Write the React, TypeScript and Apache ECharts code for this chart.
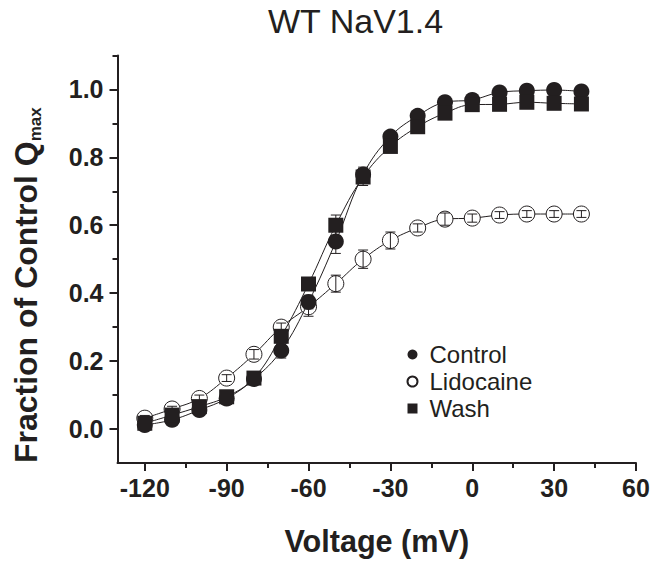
import React, { useEffect, useRef } from 'react';
import * as echarts from 'echarts';

const voltages = [-120, -110, -100, -90, -80, -70, -60, -50, -40, -30, -20, -10, 0, 10, 20, 30, 40];
const controlValues = [0.012, 0.027, 0.056, 0.09, 0.147, 0.231, 0.374, 0.552, 0.749, 0.861, 0.922, 0.962, 0.969, 0.991, 0.996, 0.998, 0.994];
const controlErrors = [0.008, 0.008, 0.01, 0.01, 0.012, 0.022, 0.02, 0.035, 0.022, 0.012, 0.01, 0.01, 0.01, 0.008, 0.008, 0.008, 0.008];
const lidocaineValues = [0.032, 0.059, 0.09, 0.15, 0.22, 0.3, 0.36, 0.428, 0.5, 0.555, 0.592, 0.618, 0.621, 0.63, 0.633, 0.633, 0.633];
const lidocaineErrors = [0.008, 0.008, 0.01, 0.01, 0.014, 0.012, 0.028, 0.025, 0.027, 0.025, 0.012, 0.018, 0.012, 0.01, 0.01, 0.01, 0.01];
const washValues = [0.017, 0.041, 0.066, 0.095, 0.15, 0.273, 0.427, 0.6, 0.742, 0.832, 0.89, 0.93, 0.955, 0.956, 0.962, 0.959, 0.957];
const washErrors = [0.008, 0.008, 0.01, 0.01, 0.012, 0.015, 0.015, 0.03, 0.025, 0.012, 0.01, 0.01, 0.01, 0.008, 0.008, 0.008, 0.008];

const xMajorTicks = [-120, -90, -60, -30, 0, 30, 60];
const xMinorTicks = [-105, -75, -45, -15, 15, 45];
const yMajorTicks = [0, 0.2, 0.4, 0.6, 0.8, 1.0];
const yMinorTicks = [0.1, 0.3, 0.5, 0.7, 0.9, 1.1];

const INK = '#231f20';
const FONT = '"Liberation Sans", Arial, Helvetica, sans-serif';

function errorBars(values: number[], errors: number[], z: number) {
  return {
    type: 'custom',
    silent: true,
    z,
    xAxisIndex: 0,
    yAxisIndex: 0,
    data: voltages.map((v, i) => [v, values[i] - errors[i], values[i] + errors[i]]),
    renderItem: (params: any, api: any) => {
      const x = api.value(0);
      const lo = api.coord([x, api.value(1)]);
      const hi = api.coord([x, api.value(2)]);
      const hw = 5;
      const style = { stroke: INK, lineWidth: 1 };
      return {
        type: 'group',
        children: [
          { type: 'line', shape: { x1: lo[0], y1: lo[1], x2: hi[0], y2: hi[1] }, style },
          { type: 'line', shape: { x1: lo[0] - hw, y1: lo[1], x2: lo[0] + hw, y2: lo[1] }, style },
          { type: 'line', shape: { x1: hi[0] - hw, y1: hi[1], x2: hi[0] + hw, y2: hi[1] }, style },
        ],
      };
    },
  };
}

export default function App() {
  const ref = useRef<HTMLDivElement>(null);
  useEffect(() => {
    if (!ref.current) return;
    const chart = echarts.init(ref.current, null, { renderer: 'svg' });
    const axisLineStyle = { color: INK, width: 2 };
    const option: any = {
      animation: false,
      backgroundColor: '#fff',
      title: {
        text: 'WT NaV1.4',
        left: 268,
        top: 4,
        padding: 0,
        textStyle: { fontSize: 34, fontWeight: 'normal', color: INK, fontFamily: FONT },
      },
      legend: {
        orient: 'vertical',
        left: 406.5,
        top: 341,
        itemWidth: 10,
        itemHeight: 10,
        itemGap: 0,
        padding: 0,
        selectedMode: false,
        textStyle: { fontSize: 24, color: INK, fontFamily: FONT, lineHeight: 27, padding: [0, 0, 0, 7] },
        data: [
          { name: 'Control', icon: 'circle' },
          { name: 'Lidocaine', icon: 'circle' },
          { name: 'Wash', icon: 'rect' },
        ],
      },
      grid: { left: 117.5, right: 26, top: 55.4, bottom: 90.4, containLabel: false },
      xAxis: [
        {
          type: 'value',
          min: -130,
          max: 60,
          position: 'bottom',
          name: 'Voltage (mV)',
          nameLocation: 'middle',
          nameGap: 62,
          nameTextStyle: { fontSize: 30.6, fontWeight: 'bold', color: INK, fontFamily: FONT },
          axisLine: { show: true, onZero: false, lineStyle: axisLineStyle },
          axisTick: { show: true, length: 8, customValues: xMajorTicks, lineStyle: { color: INK, width: 2 } },
          axisLabel: {
            customValues: xMajorTicks,
            fontSize: 25,
            fontWeight: 'bold',
            color: INK,
            fontFamily: FONT,
            margin: 12,
          },
          splitLine: { show: false },
        },
        {
          type: 'value',
          min: -130,
          max: 60,
          position: 'bottom',
          axisLine: { show: false, onZero: false },
          axisTick: { show: true, length: 5, customValues: xMinorTicks, lineStyle: { color: INK, width: 2 } },
          axisLabel: { show: false },
          splitLine: { show: false },
        },
      ],
      yAxis: [
        {
          type: 'value',
          min: -0.1,
          max: 1.1,
          position: 'left',
          name: 'Fraction of Control Q{sub|max}',
          nameLocation: 'middle',
          nameRotate: 90,
          nameGap: 74,
          nameTextStyle: {
            fontSize: 32,
            fontWeight: 'bold',
            color: INK,
            fontFamily: FONT,
            padding: [0, 52, 0, 0],
            rich: {
              sub: { fontSize: 17, fontWeight: 'bold', color: INK, fontFamily: FONT, padding: [18, 0, 0, 0] },
            },
          },
          axisLine: { show: true, onZero: false, lineStyle: axisLineStyle },
          axisTick: { show: true, length: 8, customValues: yMajorTicks, lineStyle: { color: INK, width: 2 } },
          axisLabel: {
            customValues: yMajorTicks,
            formatter: (v: number) => v.toFixed(1),
            fontSize: 25,
            fontWeight: 'bold',
            color: INK,
            fontFamily: FONT,
            margin: 14,
          },
          splitLine: { show: false },
        },
        {
          type: 'value',
          min: -0.1,
          max: 1.1,
          position: 'left',
          axisLine: { show: false, onZero: false },
          axisTick: { show: true, length: 5, customValues: yMinorTicks, lineStyle: { color: INK, width: 2 } },
          axisLabel: { show: false },
          splitLine: { show: false },
        },
      ],
      series: [
        {
          name: 'Lidocaine',
          type: 'line',
          data: voltages.map((v, i) => [v, lidocaineValues[i]]),
          smooth: 0.4,
          symbol: 'circle',
          symbolSize: 16,
          z: 2,
          lineStyle: { color: INK, width: 1 },
          itemStyle: { color: '#fff', borderColor: INK, borderWidth: 1 },
        },
        errorBars(lidocaineValues, lidocaineErrors, 3),
        {
          name: 'Control',
          type: 'line',
          data: voltages.map((v, i) => [v, controlValues[i]]),
          smooth: 0.4,
          symbol: 'circle',
          symbolSize: 16,
          z: 4,
          lineStyle: { color: INK, width: 1 },
          itemStyle: { color: INK, borderColor: INK, borderWidth: 0 },
        },
        errorBars(controlValues, controlErrors, 3),
        {
          name: 'Wash',
          type: 'line',
          data: voltages.map((v, i) => [v, washValues[i]]),
          smooth: 0.4,
          symbol: 'rect',
          symbolSize: 15,
          z: 5,
          lineStyle: { color: INK, width: 1 },
          itemStyle: { color: INK, borderColor: INK, borderWidth: 0 },
        },
        errorBars(washValues, washErrors, 3),
      ],
    };
    chart.setOption(option);
    return () => chart.dispose();
  }, []);
  return <div ref={ref} style={{ width: 662, height: 561, position: 'absolute', left: 0, top: 0 }} />;
}
